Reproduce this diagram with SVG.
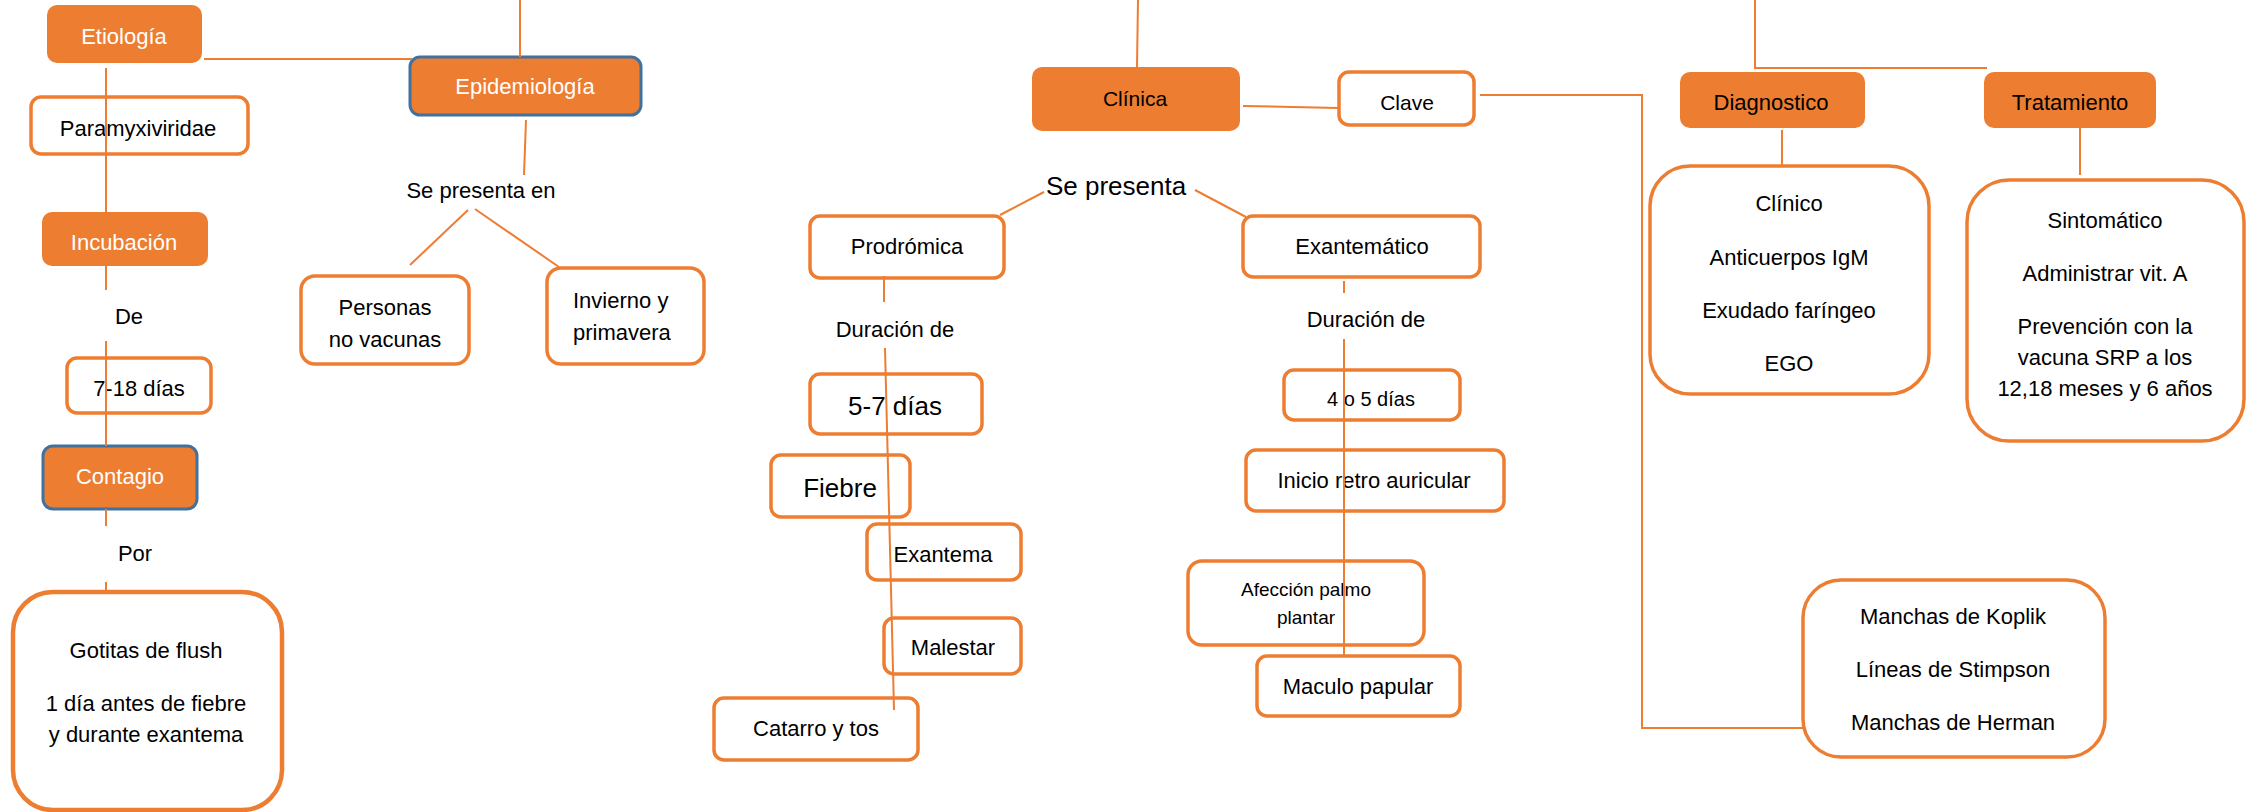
<svg xmlns="http://www.w3.org/2000/svg" width="2246" height="812" viewBox="0 0 2246 812">
<style>
text{font-family:"Liberation Sans",Arial,sans-serif;font-size:22px;fill:#000;text-anchor:middle;dominant-baseline:central}
.w{fill:#fff}
.lg{font-size:26px}
.sm{font-size:19px}
.st{text-anchor:start}
.of{fill:#ED7D31;stroke:none}
.ob{fill:#ED7D31;stroke:#41719C;stroke-width:3}
.wb{fill:#fff;stroke:#ED7D31;stroke-width:3.5}
.wb4{fill:#fff;stroke:#ED7D31;stroke-width:4.5}
.c line,.c polyline{stroke:#ED7D31;stroke-width:2;fill:none}
</style>
<rect width="2246" height="812" fill="#fff"/>

<g id="etiologia"><rect class="of" x="47" y="5" width="155" height="58" rx="10"/><text class="w" x="124" y="36">Etiología</text></g>
<g id="paramyxiviridae"><rect class="wb" x="31" y="97" width="217" height="57" rx="10"/><text x="138" y="128">Paramyxiviridae</text></g>
<g id="incubacion"><rect class="of" x="42" y="212" width="166" height="54" rx="10"/><text class="w" x="124" y="242">Incubación</text></g>
<g id="de"><text x="129" y="316">De</text></g>
<g id="dias718"><rect class="wb" x="67" y="358" width="144" height="55" rx="10"/><text x="139" y="388">7-18 días</text></g>
<g id="contagio"><rect class="ob" x="43" y="446" width="154" height="63" rx="10"/><text class="w" x="120" y="476">Contagio</text></g>
<g id="por"><text x="135" y="553">Por</text></g>
<g id="gotitas"><rect class="wb4" x="13" y="592" width="269" height="218" rx="40"/><text x="146" y="650">Gotitas de flush</text><text x="146" y="703">1 día antes de fiebre</text><text x="146" y="734">y durante exantema</text></g>

<g id="epidemiologia"><rect class="ob" x="410" y="57" width="231" height="58" rx="10"/><text class="w" x="525" y="86">Epidemiología</text></g>
<g id="sepresentaen"><text x="481" y="190">Se presenta en</text></g>
<g id="personas"><rect class="wb" x="301" y="276" width="168" height="88" rx="14"/><text x="385" y="307">Personas</text><text x="385" y="339">no vacunas</text></g>
<g id="invierno"><rect class="wb" x="547" y="268" width="157" height="96" rx="14"/><text class="st" x="573" y="300">Invierno y</text><text class="st" x="573" y="332">primavera</text></g>

<g id="clinica"><rect class="of" x="1032" y="67" width="208" height="64" rx="10"/><text x="1135" y="98" style="font-size:21px">Clínica</text></g>
<g id="clave"><rect class="wb" x="1339" y="72" width="135" height="53" rx="10"/><text x="1407" y="102" style="font-size:21px">Clave</text></g>
<g id="sepresenta"><text class="lg" x="1116" y="186">Se presenta</text></g>
<g id="prodromica"><rect class="wb" x="810" y="216" width="194" height="62" rx="10"/><text x="907" y="246">Prodrómica</text></g>
<g id="duracion1"><text x="895" y="329">Duración de</text></g>
<g id="dias57"><rect class="wb" x="810" y="374" width="172" height="60" rx="10"/><text class="lg" x="895" y="406">5-7 días</text></g>
<g id="fiebre"><rect class="wb" x="771" y="455" width="139" height="62" rx="10"/><text class="lg" x="840" y="488">Fiebre</text></g>
<g id="exantema"><rect class="wb" x="867" y="524" width="154" height="56" rx="10"/><text x="943" y="554">Exantema</text></g>
<g id="malestar"><rect class="wb" x="884" y="618" width="137" height="56" rx="10"/><text x="953" y="647">Malestar</text></g>
<g id="catarro"><rect class="wb" x="714" y="698" width="204" height="62" rx="10"/><text x="816" y="728">Catarro y tos</text></g>

<g id="exantematico"><rect class="wb" x="1243" y="216" width="237" height="61" rx="10"/><text x="1362" y="246">Exantemático</text></g>
<g id="duracion2"><text x="1366" y="319">Duración de</text></g>
<g id="dias45"><rect class="wb" x="1284" y="370" width="176" height="50" rx="10"/><text x="1371" y="399" style="font-size:20px">4 o 5 días</text></g>
<g id="inicio"><rect class="wb" x="1246" y="450" width="258" height="61" rx="10"/><text x="1374" y="480">Inicio retro auricular</text></g>
<g id="afeccion"><rect class="wb" x="1188" y="561" width="236" height="84" rx="14"/><text class="sm" x="1306" y="589">Afección palmo</text><text class="sm" x="1306" y="617">plantar</text></g>
<g id="maculo"><rect class="wb" x="1257" y="656" width="203" height="60" rx="10"/><text x="1358" y="686">Maculo papular</text></g>

<g id="diagnostico"><rect class="of" x="1680" y="72" width="185" height="56" rx="10"/><text x="1771" y="102">Diagnostico</text></g>
<g id="diagnostico-lista"><rect class="wb" x="1650" y="166" width="279" height="228" rx="40"/><text x="1789" y="203">Clínico</text><text x="1789" y="257">Anticuerpos IgM</text><text x="1789" y="310">Exudado faríngeo</text><text x="1789" y="363">EGO</text></g>
<g id="tratamiento"><rect class="of" x="1984" y="72" width="172" height="56" rx="10"/><text x="2070" y="102">Tratamiento</text></g>
<g id="tratamiento-lista"><rect class="wb" x="1967" y="180" width="277" height="261" rx="42"/><text x="2105" y="220">Sintomático</text><text x="2105" y="273">Administrar vit. A</text><text x="2105" y="326">Prevención con la</text><text x="2105" y="357">vacuna SRP a los</text><text x="2105" y="388">12,18 meses y 6 años</text></g>
<g id="manchas"><rect class="wb" x="1803" y="580" width="302" height="177" rx="38"/><text x="1953" y="616">Manchas de Koplik</text><text x="1953" y="669">Líneas de Stimpson</text><text x="1953" y="722">Manchas de Herman</text></g>

<g id="connectors" class="c">
<line x1="520" y1="0" x2="520" y2="57"/>
<line x1="204" y1="59" x2="412" y2="59"/>
<line x1="106" y1="68" x2="106" y2="212"/>
<line x1="106" y1="266" x2="106" y2="290"/>
<line x1="106" y1="341" x2="106" y2="446"/>
<line x1="106" y1="509" x2="106" y2="526"/>
<line x1="106" y1="582" x2="106" y2="592"/>
<line x1="526" y1="120" x2="524" y2="175"/>
<line x1="468" y1="210" x2="410" y2="265"/>
<line x1="475" y1="209" x2="559" y2="267"/>
<line x1="1138" y1="0" x2="1137" y2="67"/>
<line x1="1243" y1="106" x2="1338" y2="108"/>
<polyline points="1480,95 1642,95 1642,728 1803,728"/>
<line x1="1044" y1="192" x2="1000" y2="215"/>
<line x1="1195" y1="190" x2="1246" y2="217"/>
<line x1="884" y1="276" x2="884" y2="302"/>
<line x1="885" y1="348" x2="894" y2="710"/>
<line x1="1344" y1="281" x2="1344" y2="293"/>
<line x1="1344" y1="339" x2="1344" y2="655"/>
<polyline points="1755,0 1755,68 1987,68"/>
<line x1="1782" y1="130" x2="1782" y2="166"/>
<line x1="2080" y1="128" x2="2080" y2="175"/>
</g>
</svg>
